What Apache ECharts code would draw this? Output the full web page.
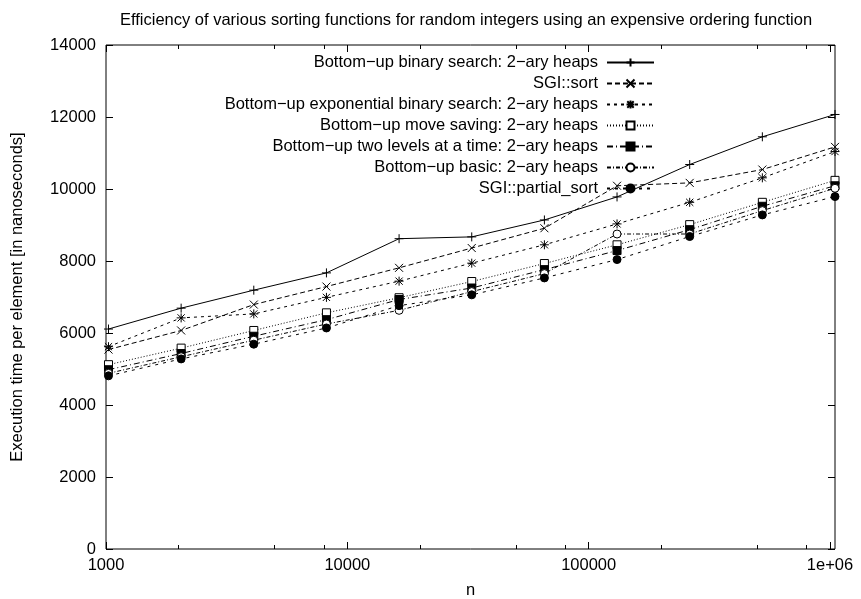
<!DOCTYPE html>
<html style="height: 100%">
<head>
    <meta charset="UTF-8">
</head>
<body style="height: 100%; margin: 0; background: #fff">
<div id="container" style="width: 861px; height: 599px"></div>
<script type="text/javascript" src="https://cdn.jsdelivr.net/npm/echarts@6/dist/echarts.min.js"></script>
<script type="text/javascript">
// problem sizes n = 2^10 .. 2^20
var nValues = [1024, 2048, 4096, 8192, 16384, 32768, 65536, 131072, 262144, 524288, 1048576];

// execution time per element [ns]
var binarySearch = [6110, 6690, 7190, 7670, 8620, 8670, 9140, 9780, 10680, 11450, 12070];
var sgiSort      = [5540, 6070, 6790, 7290, 7810, 8360, 8910, 10090, 10170, 10540, 11170];
var expBinary    = [5620, 6420, 6530, 6990, 7440, 7940, 8450, 9030, 9630, 10310, 11040];
var moveSaving   = [5120, 5580, 6070, 6560, 6980, 7430, 7930, 8450, 9010, 9630, 10240];
var twoLevels    = [4980, 5430, 5910, 6370, 6930, 7250, 7760, 8290, 8870, 9520, 10090];
var basic        = [4880, 5340, 5800, 6250, 6630, 7150, 7650, 8750, 8750, 9400, 10020];
var partialSort  = [4810, 5280, 5690, 6140, 6760, 7060, 7530, 8040, 8680, 9280, 9790];

var xMajorTicks = [1000, 10000, 100000, 1000000];
var xMinorTicks = [2000, 5000, 8000, 20000, 50000, 80000, 200000, 500000, 800000];

var names = [
    'Bottom\u2212up binary search: 2\u2212ary heaps',
    'SGI::sort',
    'Bottom\u2212up exponential binary search: 2\u2212ary heaps',
    'Bottom\u2212up move saving: 2\u2212ary heaps',
    'Bottom\u2212up two levels at a time: 2\u2212ary heaps',
    'Bottom\u2212up basic: 2\u2212ary heaps',
    'SGI::partial_sort'
];
var values = [binarySearch, sgiSort, expBinary, moveSaving, twoLevels, basic, partialSort];

var plusPath = 'path://M5,0L5,10M0,5L10,5';
var crossPath = 'path://M0,0L10,10M10,0L0,10';
var starPath = 'path://M5,0L5,10M0,5L10,5M1,1L9,9M9,1L1,9';

var styles = [
    { symbol: plusPath, size: 9, fill: '#000', dash: 'solid' },
    { symbol: crossPath, size: 8, fill: '#000', dash: [5, 3] },
    { symbol: starPath, size: 9, fill: '#000', dash: [3, 4] },
    { symbol: 'rect', size: 8, fill: '#fff', dash: [1, 2] },
    { symbol: 'rect', size: 8, fill: '#000', dash: [6, 3, 1, 3] },
    { symbol: 'circle', size: 8, fill: '#fff', dash: [4, 2, 1, 2] },
    { symbol: 'circle', size: 8, fill: '#000', dash: [3, 5] }
];

var font = 'Liberation Sans, Arial, sans-serif';
var fs = 16.5;
var myChart = echarts.init(document.getElementById('container'));

var series = [];
var legends = [];
for (var i = 0; i < names.length; i++) {
    var pts = [];
    for (var j = 0; j < nValues.length; j++) {
        pts.push([nValues[j], values[i][j]]);
    }
    series.push({
        name: names[i],
        type: 'line',
        data: pts,
        xAxisIndex: 0,
        yAxisIndex: 0,
        symbol: styles[i].symbol,
        symbolSize: styles[i].size,
        showAllSymbol: true,
        animation: false,
        lineStyle: { color: '#000', width: 1, type: styles[i].dash },
        itemStyle: { color: styles[i].fill, borderColor: '#000', borderWidth: 1 },
        emphasis: { disabled: true }
    });
    legends.push({
        data: [names[i]],
        right: 206,
        top: 54 + i * 21,
        padding: 0,
        align: 'right',
        itemWidth: 47,
        itemHeight: 10,
        selectedMode: false,
        textStyle: { fontFamily: font, fontSize: fs, color: '#000', padding: [0, 4, 0, 0] }
    });
}

function xAxisDef(pos, ticks, len, labels) {
    return {
        type: 'log',
        logBase: 10,
        min: 1000,
        max: 1048576,
        position: pos,
        axisLine: { show: false },
        splitLine: { show: false },
        axisTick: { inside: true, length: len, customValues: ticks, lineStyle: { color: '#000' } },
        axisLabel: {
            show: labels,
            customValues: ticks,
            margin: 8,
            fontFamily: font,
            fontSize: fs,
            color: '#000',
            formatter: function (v) {
                v = Math.round(v);
                return v >= 1000000 ? '1e+06' : String(v);
            }
        }
    };
}

var xMain = xAxisDef('bottom', xMajorTicks, 7, true);
xMain.name = 'n';
xMain.nameLocation = 'middle';
xMain.nameGap = 33;
xMain.nameTextStyle = { fontFamily: font, fontSize: fs, color: '#000' };

var option = {
    backgroundColor: '#fff',
    animation: false,
    title: {
        text: 'Efficiency of various sorting functions for random integers using an expensive ordering function',
        left: 466,
        top: 12,
        textAlign: 'center',
        padding: 0,
        textStyle: { fontFamily: font, fontSize: fs, fontWeight: 'normal', color: '#000' }
    },
    grid: {
        left: 106, right: 26, top: 45, bottom: 50,
        outerBoundsMode: 'none',
        containLabel: false,
        show: true, borderColor: '#000', borderWidth: 1, backgroundColor: 'transparent'
    },
    legend: legends,
    xAxis: [
        xMain,
        xAxisDef('bottom', xMinorTicks, 4, false),
        xAxisDef('top', xMajorTicks, 7, false),
        xAxisDef('top', xMinorTicks, 4, false)
    ],
    yAxis: [
        {
            type: 'value',
            min: 0,
            max: 14000,
            interval: 2000,
            position: 'left',
            name: 'Execution time per element [in nanoseconds]',
            nameLocation: 'middle',
            nameRotate: 90,
            nameGap: 80,
            nameTextStyle: { fontFamily: font, fontSize: fs, color: '#000' },
            axisLine: { show: false },
            splitLine: { show: false },
            axisTick: { inside: true, length: 7, lineStyle: { color: '#000' } },
            axisLabel: {
                margin: 10, fontFamily: font, fontSize: fs, color: '#000',
                formatter: function (v) { return String(v); }
            }
        },
        {
            type: 'value',
            min: 0,
            max: 14000,
            interval: 2000,
            position: 'right',
            axisLine: { show: false },
            splitLine: { show: false },
            axisTick: { inside: true, length: 7, lineStyle: { color: '#000' } },
            axisLabel: { show: false }
        }
    ],
    series: series
};
option && myChart.setOption(option);
</script>
</body>
</html>
